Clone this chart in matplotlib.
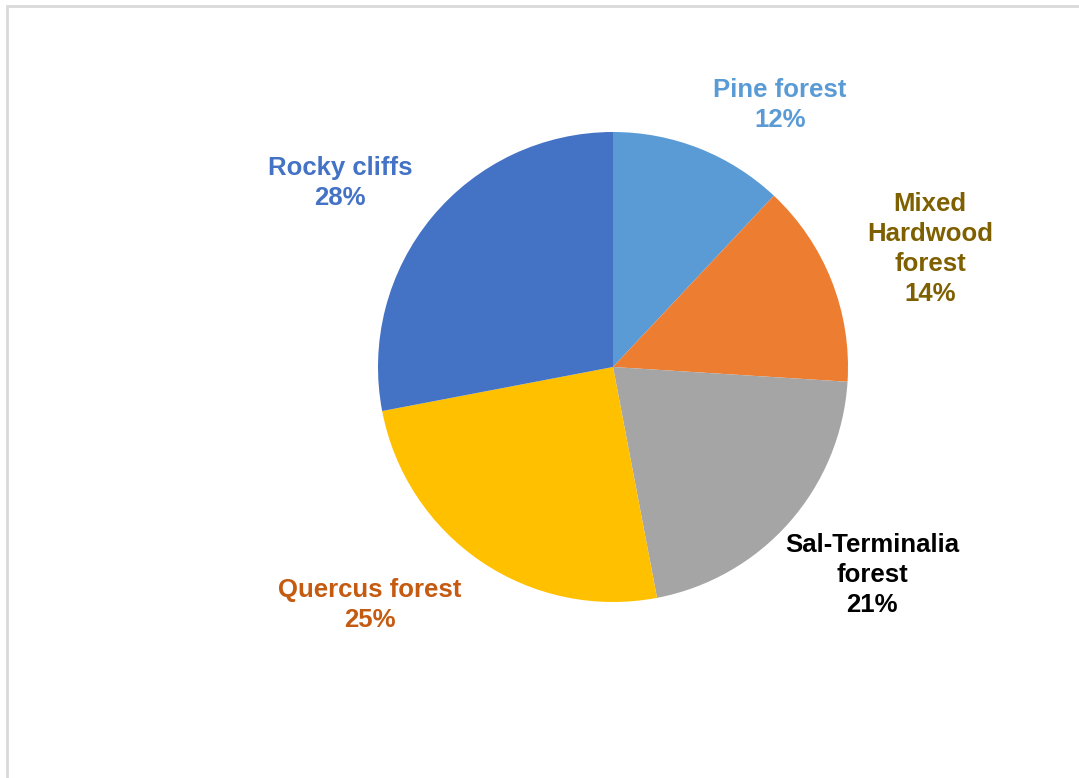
import matplotlib.pyplot as plt
from matplotlib.patches import Rectangle

# ---- du lieu ----
habitats = ['Pine forest', 'Mixed\nHardwood\nforest', 'Sal-Terminalia\nforest',
            'Quercus forest', 'Rocky cliffs']
shares = [12, 14, 21, 25, 28]
colors = ['#5B9BD5', '#ED7D31', '#A5A5A5', '#FFC000', '#4472C4']
label_colors = ['#5B9BD5', '#7F6000', '#000000', '#C55A11', '#4472C4']
# vi tri nhan (pixel, goc tren trai)
label_pos = [(780, 105), (930, 249), (872, 575), (370, 605), (340, 183)]

W, H = 1079, 778
fig = plt.figure(figsize=(W / 100, H / 100), dpi=100)
ax = fig.add_axes([0, 0, 1, 1])

ax.pie(shares, colors=colors, startangle=90, counterclock=False,
       center=(613, H - 367), radius=235, frame=True,
       wedgeprops=dict(linewidth=0))
ax.set_xlim(0, W)
ax.set_ylim(0, H)
ax.set_aspect('equal')
ax.axis('off')

# khung xam nhat
ax.add_patch(Rectangle((7, -10), W + 20, H - 6 + 10, fill=False,
                       edgecolor='#D9D9D9', linewidth=2))

for name, val, c, (x, y) in zip(habitats, shares, label_colors, label_pos):
    ax.text(x, H - y, f'{name}\n{val}%', color=c, ha='center', va='center',
            fontsize=18.5, fontweight='bold', family='Liberation Sans',
            linespacing=1.32)

fig.savefig('out.png', dpi=100)
